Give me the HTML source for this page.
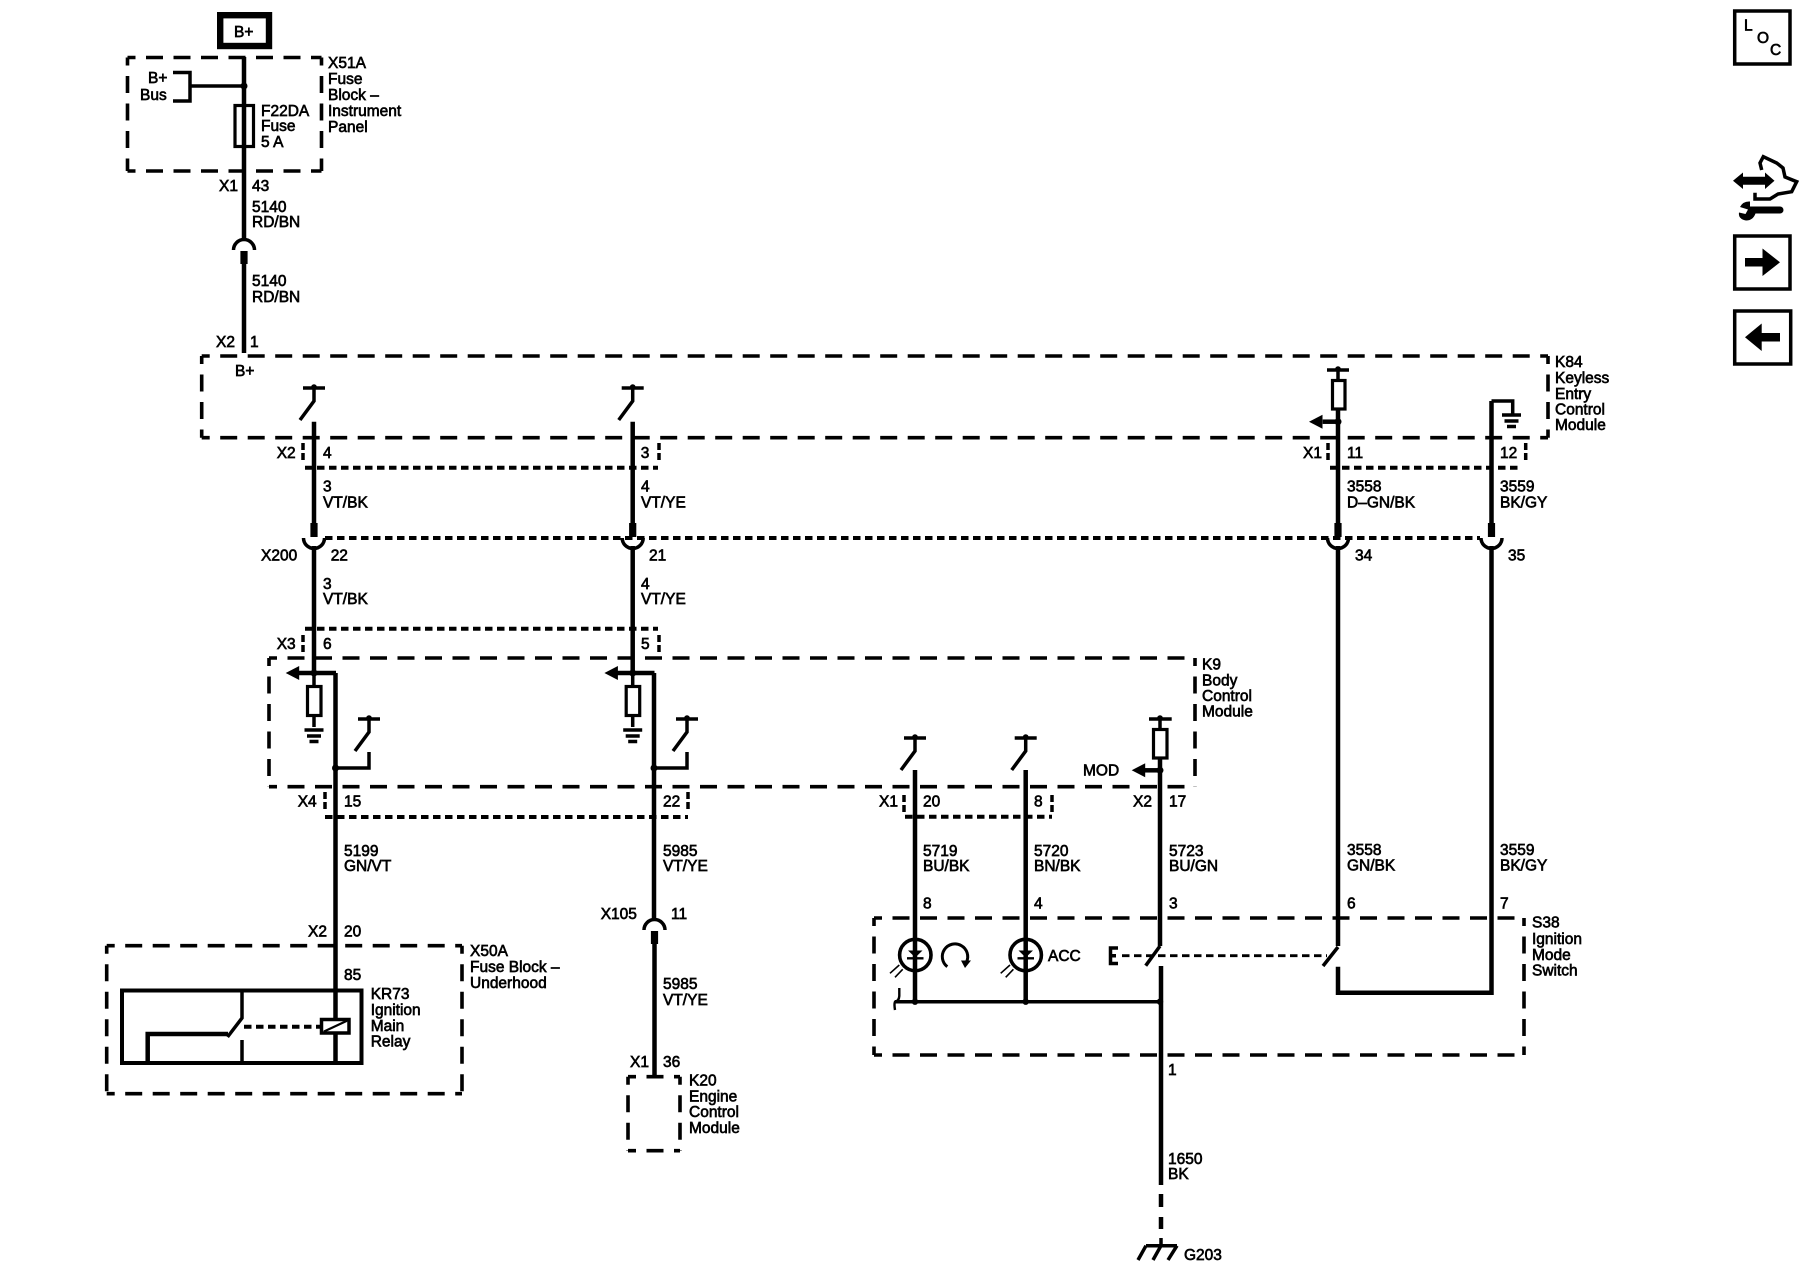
<!DOCTYPE html>
<html>
<head>
<meta charset="utf-8">
<style>
html,body{margin:0;padding:0;background:#fff}
svg{display:block}
text{font-family:"Liberation Sans",sans-serif;font-size:15.5px;fill:#000;stroke:#000;stroke-width:.65px}
.w{stroke:#000;stroke-width:4.5;fill:none}
.t{stroke:#000;stroke-width:3.5;fill:none}
.b{stroke:#000;stroke-width:3.6;fill:none;stroke-dasharray:17 10.5;stroke-dashoffset:9}
.d{stroke:#000;stroke-width:4;fill:none;stroke-dasharray:7.5 4.5}
.dv{stroke:#000;stroke-width:3.5;fill:none;stroke-dasharray:7 3}
.r{stroke:#000;stroke-width:3.2;fill:#fff}
</style>
</head>
<body>
<svg width="1800" height="1280" viewBox="0 0 1800 1280" xmlns="http://www.w3.org/2000/svg">
<defs>
<g id="sw"><path class="t" d="M-11 0H11"/><circle r="2.8" cy="-1"/><path class="t" d="M0 0V13L-14 32"/></g>
<g id="cup"><rect x="-3.6" y="0" width="7.2" height="14"/><path class="t" d="M-10.5 15A10.5 10.5 0 0 0 10.5 15"/></g>
<g id="plugtop"><path class="t" d="M-10.5 11A10.5 10.5 0 0 1 10.5 11"/><rect x="-3.6" y="12" width="7.2" height="13"/></g>
<g id="arr"><path d="M0 0L13.5 -7V7Z"/></g>
<g id="gnd"><path class="t" d="M-9.5 0H9.5M-7 6H7M-4.5 11.500H4.500"/></g>
</defs>

<!-- Right side icons -->
<rect x="1734.700" y="11" width="55.300" height="53" fill="#fff" stroke="#000" stroke-width="3.500"/>
<text x="1744" y="30.500">L</text><text x="1757" y="43">O</text><text x="1770" y="55">C</text>
<path d="M1733 180.700L1743 172.500V176.700H1765V172.500L1774.500 180.700L1765 189V184.700H1743V189Z"/>
<path class="t" d="M1761.700 170L1760 163L1763.300 156.700L1776.700 163L1783 168L1785 177L1796.700 181.700L1791.700 191.700L1778 194L1770 199L1755 199L1755 192.700"/>
<path d="M1750 206.500H1780A3.500 3.500 0 0 1 1780 213.500H1755.500Q1753 220.500 1746 220.500Q1738 219 1739 212.500L1745.500 214L1748 209.500L1740 207Q1743 201 1750 201.500Z"/>
<rect x="1734.700" y="236" width="55.300" height="53" fill="#fff" stroke="#000" stroke-width="3.500"/>
<path d="M1745 258H1762.500V248.500L1780 262.300L1762.500 276V266.500H1745Z"/>
<rect x="1734.700" y="311" width="56" height="53" fill="#fff" stroke="#000" stroke-width="3.500"/>
<path d="M1780 333H1761.700V323.500L1745 337.300L1761.700 351V341.500H1780Z"/>

<!-- B+ box -->
<rect x="220.200" y="15.200" width="48.800" height="30.800" fill="#fff" stroke="#000" stroke-width="6.400"/>
<text x="234" y="37">B+</text>

<!-- Dashed module boxes -->
<path class="b" d="M127.500 57.500H321.500M127.500 171H321.500M127.500 57.500V171M321.500 57.500V171"/>
<path class="b" d="M201.700 356H1548M201.700 437.700H1548M201.700 356V437.700M1548 356V437.700"/>
<path class="b" d="M269 658H1195M269 786.700H1195M269 658V786.700M1195 658V786.700"/>
<path class="b" d="M106.700 945.700H462M106.700 1093.700H462M106.700 945.700V1093.700M462 945.700V1093.700"/>
<path class="b" d="M628 1076.700H680M628 1150.700H680M628 1076.700V1150.700M680 1076.700V1150.700"/>
<path class="b" d="M874 918H1524M874 1055H1524M874 918V1055M1524 918V1055"/>

<!-- Connector outlines -->
<path class="d" d="M305 467.700H658"/>
<path class="dv" d="M303 443V463M659 443V463"/>
<path class="d" d="M1330 467.700H1522"/>
<path class="dv" d="M1328 443V463M1525.700 443V463"/>
<path class="d" d="M325 538H1480"/>
<path class="d" d="M305 628.700H658"/>
<path class="dv" d="M303 635V652M659 635V652"/>
<path class="d" d="M325 817H688"/>
<path class="dv" d="M325 792V810M688 792V810"/>
<path class="d" d="M905 816.700H1052"/>
<path class="dv" d="M904 795V812M1052 795V812"/>

<!-- X51A contents -->
<rect x="235" y="105.500" width="18.500" height="41" fill="#fff" stroke="#000" stroke-width="3.200"/>
<path class="w" d="M244 57V240"/>
<path class="w" d="M244 263V353"/>
<use href="#plugtop" x="244" y="239"/>
<path class="t" d="M173 72.500H190V101H173"/>
<path class="t" d="M190 86H244"/>
<circle cx="244" cy="86" r="3.500"/>

<!-- K84 -> K9 wires -->
<use href="#sw" x="314" y="388"/>
<use href="#sw" x="632.700" y="388"/>
<path class="w" d="M314 421.700V523"/>
<path class="w" d="M632.700 421.700V523"/>
<use href="#cup" x="314" y="523"/>
<use href="#cup" x="632.700" y="523"/>
<path class="w" d="M314 546V673"/>
<path class="w" d="M632.700 546V673"/>

<!-- K9 left inputs -->
<path class="w" d="M299 673H336"/>
<use href="#arr" x="285.700" y="673"/>
<circle cx="314" cy="673" r="3.500"/>
<path class="t" d="M314 673V727"/>
<rect class="r" x="307.500" y="686.500" width="13.500" height="29"/>
<use href="#gnd" x="314" y="730"/>

<path class="w" d="M617 673H654.500"/>
<use href="#arr" x="604.400" y="673"/>
<circle cx="632.700" cy="673" r="3.500"/>
<path class="t" d="M632.700 673V727"/>
<rect class="r" x="626.200" y="686.500" width="13.500" height="29"/>
<use href="#gnd" x="632.700" y="730"/>

<path class="w" d="M335.500 673V1064"/>
<path class="w" d="M654 673V919"/>
<use href="#sw" x="369" y="719"/>
<use href="#sw" x="687" y="719"/>
<path class="t" d="M369 752V768H335.500"/>
<path class="t" d="M687 752V768H654"/>
<circle cx="335.500" cy="768" r="3.500"/>
<circle cx="654" cy="768" r="3.500"/>

<!-- X105 / K20 -->
<use href="#plugtop" x="654.500" y="919"/>
<path class="w" d="M654.500 943V1076"/>

<!-- Relay -->
<rect x="122" y="990.500" width="239.500" height="72.500" fill="none" stroke="#000" stroke-width="4"/>
<path class="t" d="M242 990V1018L227.500 1037"/>
<path class="w" d="M147.700 1064V1034H228"/>
<path class="t" d="M242 1040V1064"/>
<path class="d" d="M244 1026.700H320"/>
<rect x="321.500" y="1019.500" width="27.500" height="13.500" fill="#fff" stroke="#000" stroke-width="3.500"/>
<path class="t" style="stroke-width:2.200" d="M324 1031.500L347 1020.700"/>

<!-- K9 outputs to S38 -->
<use href="#sw" x="915" y="738"/>
<use href="#sw" x="1025.700" y="738"/>
<path class="w" d="M915 770V1001.700"/>
<path class="w" d="M1025.700 770V1001.700"/>
<path class="t" d="M1149 719H1171.700"/>
<circle cx="1160" cy="718" r="2.800"/>
<path class="t" d="M1160 719V729"/>
<rect class="r" x="1153.500" y="729.500" width="13.500" height="28.500"/>
<path class="w" d="M1160 758V946"/>
<path class="t" d="M1160 946L1145.700 965.700"/>
<path class="w" d="M1145 770.300H1160"/>
<use href="#arr" x="1131.700" y="770.300"/>
<circle cx="1160" cy="770.300" r="3.500"/>
<path class="w" d="M1161 966V1185"/>
<path class="w" d="M1161 1194V1207M1161 1217V1229"/>
<path class="t" d="M1161 1238V1245M1146 1245.700H1177M1146 1245.700L1138 1260M1161 1245.700L1153 1260M1177 1245.700L1168 1260"/>

<!-- K84 right -->
<path class="t" d="M1327 370H1349"/>
<circle cx="1338" cy="369" r="2.800"/>
<path class="t" d="M1338 370V380"/>
<rect class="r" x="1332.500" y="380.500" width="12.500" height="28.500"/>
<path class="w" d="M1338 409V523"/>
<path class="w" d="M1322.700 421.700H1338"/>
<use href="#arr" x="1309" y="421.700"/>
<circle cx="1338" cy="421.700" r="3.500"/>
<use href="#cup" x="1338" y="523"/>
<path class="w" d="M1338 546V946"/>
<path class="t" d="M1338 947L1323 966"/>
<path class="t" d="M1512.700 415V401H1491.500"/>
<use href="#gnd" x="1511.500" y="415"/>
<path class="w" d="M1491.500 401V523"/>
<use href="#cup" x="1491.500" y="523"/>
<path class="w" d="M1491.500 546V992.700H1338V966.700"/>

<!-- S38 inner -->
<circle cx="915.300" cy="955" r="15.700" fill="none" stroke="#000" stroke-width="3.600"/>
<circle cx="1025.700" cy="955" r="15.700" fill="none" stroke="#000" stroke-width="3.600"/>
<path d="M908 950.500H922.500L915.300 957.500Z"/>
<path d="M1018.500 950.500H1033L1025.700 957.500Z"/>
<path class="t" style="stroke-width:2.400" d="M907 958.300H923.500M1017.500 958.300H1034"/>
<path class="t" style="stroke-width:1.600" d="M899.300 965L890 973.300M902.700 969.300L895 977.300M1010 965L1000.700 973.300M1013.400 969.300L1005.700 977.300"/>
<path class="t" style="stroke-width:3" d="M947.300 966.700A12.700 12.700 0 1 1 966.500 962"/>
<path d="M961 960.500H971L965 968Z"/>
<path class="t" d="M1118 948H1110.500V963.500H1118M1110.500 955.700H1116"/>
<path class="d" style="stroke-width:2.800" d="M1122 955.700H1327"/>
<path class="t" d="M895 1001.700H1160"/>
<path class="t" style="stroke-width:2.400" d="M899.300 988V996Q899 1001 895 1001.700Q894 1004 895 1010"/>
<circle cx="915" cy="1001.700" r="3.200"/>
<circle cx="1025.700" cy="1001.700" r="3.200"/>
<circle cx="1160" cy="1001.700" r="3.200"/>

<!-- Labels -->
<text x="148" y="83">B+</text><text x="140" y="100">Bus</text>
<text x="261" y="116">F22DA</text><text x="261" y="131">Fuse</text><text x="261" y="147">5 A</text>
<text x="328" y="68">X51A</text><text x="328" y="84">Fuse</text><text x="328" y="100">Block –</text><text x="328" y="116">Instrument</text><text x="328" y="132">Panel</text>
<text x="219" y="191">X1</text><text x="252" y="191">43</text>
<text x="252" y="212">5140</text><text x="252" y="227">RD/BN</text>
<text x="252" y="286">5140</text><text x="252" y="302">RD/BN</text>
<text x="216" y="347">X2</text><text x="250" y="347">1</text>
<text x="235" y="376">B+</text>

<text x="1555" y="367">K84</text><text x="1555" y="383">Keyless</text><text x="1555" y="399">Entry</text><text x="1555" y="414.700">Control</text><text x="1555" y="430">Module</text>

<text x="276.700" y="458">X2</text><text x="323" y="458">4</text><text x="640.700" y="458">3</text>
<text x="1303" y="458">X1</text><text x="1347" y="458">11</text><text x="1500" y="458">12</text>
<text x="323" y="491.700">3</text><text x="323" y="507.700">VT/BK</text>
<text x="641" y="491.700">4</text><text x="641" y="507.700">VT/YE</text>
<text x="1347" y="491.700">3558</text><text x="1347" y="507.700">D–GN/BK</text>
<text x="1500" y="491.700">3559</text><text x="1500" y="507.700">BK/GY</text>
<text x="261" y="560.700">X200</text><text x="330.700" y="560.700">22</text><text x="649" y="560.700">21</text><text x="1355" y="560.700">34</text><text x="1508" y="560.700">35</text>
<text x="323" y="589">3</text><text x="323" y="604">VT/BK</text>
<text x="641" y="589">4</text><text x="641" y="604">VT/YE</text>
<text x="276.700" y="649">X3</text><text x="323" y="649">6</text><text x="641" y="649">5</text>
<text x="1202" y="669.700">K9</text><text x="1202" y="685.400">Body</text><text x="1202" y="701">Control</text><text x="1202" y="716.700">Module</text>
<text x="1083" y="775.700">MOD</text>
<text x="297.700" y="806.700">X4</text><text x="344" y="806.700">15</text><text x="663" y="806.700">22</text>
<text x="879" y="806.700">X1</text><text x="923" y="806.700">20</text><text x="1034" y="806.700">8</text><text x="1133" y="806.700">X2</text><text x="1169" y="806.700">17</text>
<text x="344" y="856">5199</text><text x="344" y="871">GN/VT</text>
<text x="663" y="856">5985</text><text x="663" y="871">VT/YE</text>
<text x="923" y="856">5719</text><text x="923" y="871">BU/BK</text>
<text x="1034" y="856">5720</text><text x="1034" y="871">BN/BK</text>
<text x="1169" y="856">5723</text><text x="1169" y="871">BU/GN</text>
<text x="1347" y="855">3558</text><text x="1347" y="870.700">GN/BK</text>
<text x="1500" y="855">3559</text><text x="1500" y="870.700">BK/GY</text>
<text x="923" y="908.700">8</text><text x="1034" y="908.700">4</text><text x="1169" y="908.700">3</text><text x="1347" y="908.700">6</text><text x="1500" y="908.700">7</text>
<text x="600.700" y="919">X105</text><text x="671" y="919">11</text>
<text x="308" y="936.700">X2</text><text x="344" y="936.700">20</text>
<text x="470" y="956">X50A</text><text x="470" y="972">Fuse Block –</text><text x="470" y="988">Underhood</text>
<text x="344" y="980">85</text>
<text x="370.700" y="999">KR73</text><text x="370.700" y="1015">Ignition</text><text x="370.700" y="1031">Main</text><text x="370.700" y="1046.700">Relay</text>
<text x="1532" y="927.700">S38</text><text x="1532" y="944">Ignition</text><text x="1532" y="960">Mode</text><text x="1532" y="975.700">Switch</text>
<text x="1048" y="961">ACC</text>
<text x="663" y="989">5985</text><text x="663" y="1005">VT/YE</text>
<text x="630" y="1067">X1</text><text x="663" y="1067">36</text>
<text x="689" y="1085.700">K20</text><text x="689" y="1101.700">Engine</text><text x="689" y="1117">Control</text><text x="689" y="1133">Module</text>
<text x="1168" y="1075">1</text><text x="1168" y="1164">1650</text><text x="1168" y="1179">BK</text>
<text x="1184" y="1260">G203</text>
</svg>
</body>
</html>
